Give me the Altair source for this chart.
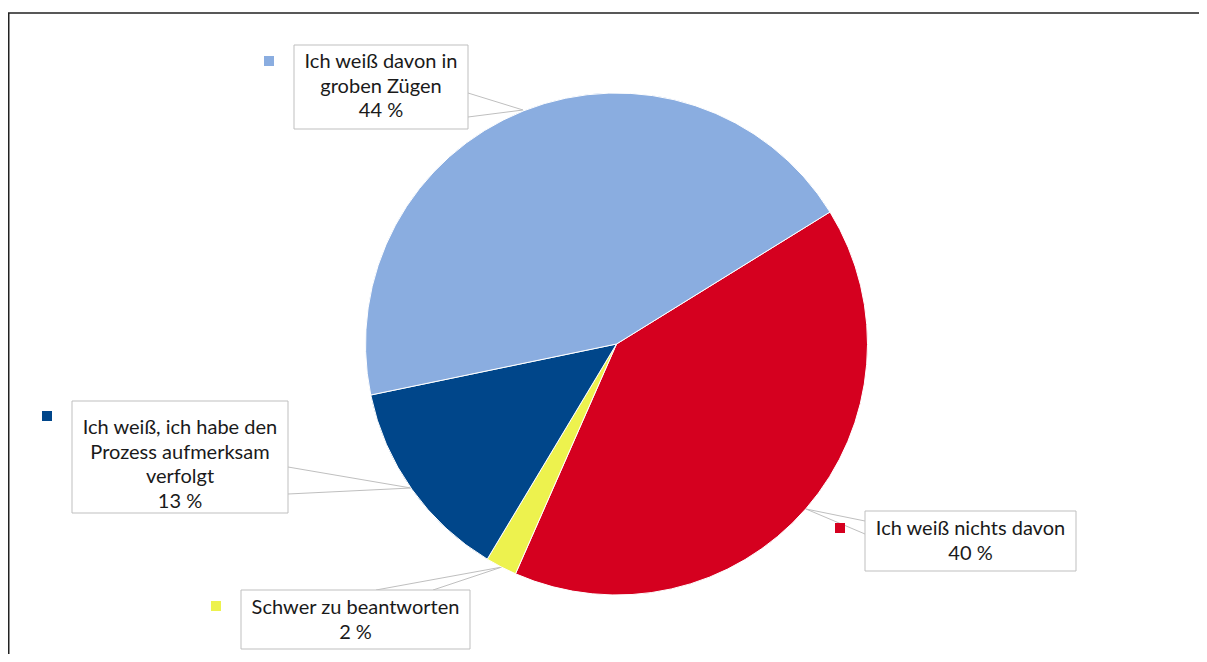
import altair as alt
import pandas as pd
import math

# data
categories = ["Ich weiß nichts davon", "Schwer zu beantworten",
              "Ich weiß, ich habe den Prozess aufmerksam verfolgt",
              "Ich weiß davon in groben Zügen"]
values = [40, 2, 13, 44]
colors = ["#D5001F", "#EDF24E", "#00468A", "#8AADE0"]
label_lines = [["Ich weiß nichts davon", "40 %"],
               ["Schwer zu beantworten", "2 %"],
               ["Ich weiß, ich habe den", "Prozess aufmerksam", "verfolgt", "13 %"],
               ["Ich weiß davon in", "groben Zügen", "44 %"]]

# layout (page px minus 8px margin)
OFF = 8
cx, cy, R = 616.5 - OFF, 344 - OFF, 251
start = 1.017
boxes = [(865, 511, 1076, 571), (241, 590, 470, 649), (72, 401, 288, 513), (294, 45, 468, 129)]
text_y0 = [529, 608, 428, 62]
squares = [(840, 528), (216, 606), (47, 416), (269, 61)]
leaders = [[(865, 521, 806, 509), (865, 534, 806, 509)],
           [(376, 590, 502, 567), (433, 590, 502, 567)],
           [(288, 467, 411, 488), (288, 494, 411, 488)],
           [(468, 93, 523, 110), (468, 117, 523, 110)]]

W, H = 1191, 646
FONT = "Lato"

pie_df = pd.DataFrame({"cat": categories, "val": values, "ord": list(range(4))})
pie = alt.Chart(pie_df).mark_arc(outerRadius=R, stroke="white", strokeWidth=1).encode(
    theta=alt.Theta("val:Q", stack=True, scale=alt.Scale(range=[start, start + 2 * math.pi])),
    order=alt.Order("ord:Q"),
    color=alt.Color("cat:N", scale=alt.Scale(domain=categories, range=colors), legend=None),
    x=alt.value(cx), y=alt.value(cy),
)

layers = []
# frame
frame = alt.Chart(pd.DataFrame({"a": [0]})).mark_rect(fill=None, stroke="#222222", strokeWidth=1.5).encode(
    x=alt.value(0.75), x2=alt.value(W + 50), y=alt.value(13 - OFF), y2=alt.value(H + 50))
layers.append(frame)

for i, cat in enumerate(categories):
    for (x1, y1, x2, y2) in leaders[i]:
        layers.append(alt.Chart(pd.DataFrame({"a": [0]})).mark_rule(color="#BFBFBF", strokeWidth=1).encode(
            x=alt.value(x1 - OFF), y=alt.value(y1 - OFF), x2=alt.value(x2 - OFF), y2=alt.value(y2 - OFF)))

layers.append(pie)

for i, cat in enumerate(categories):
    bx1, by1, bx2, by2 = boxes[i]
    layers.append(alt.Chart(pd.DataFrame({"a": [0]})).mark_rect(fill="white", stroke="#BFBFBF", strokeWidth=1).encode(
        x=alt.value(bx1 - OFF), x2=alt.value(bx2 - OFF), y=alt.value(by1 - OFF), y2=alt.value(by2 - OFF)))
    sx, sy = squares[i]
    layers.append(alt.Chart(pd.DataFrame({"a": [0]})).mark_rect(fill=colors[i]).encode(
        x=alt.value(sx - 5 - OFF), x2=alt.value(sx + 5 - OFF), y=alt.value(sy - 5 - OFF), y2=alt.value(sy + 5 - OFF)))
    for j, line in enumerate(label_lines[i]):
        layers.append(alt.Chart(pd.DataFrame({"t": [line]})).mark_text(
            font=FONT, fontSize=20, color="#1a1a1a", align="center", baseline="middle").encode(
            text="t:N", x=alt.value((bx1 + bx2) / 2 - OFF), y=alt.value(text_y0[i] + j * 24.5 - OFF)))

chart = alt.layer(*layers).properties(
    width=W, height=H, padding=0, autosize=alt.AutoSizeParams(type="none")
).configure_view(stroke=None)

chart.save("out.html", embed_options={"renderer": "svg", "actions": False})
